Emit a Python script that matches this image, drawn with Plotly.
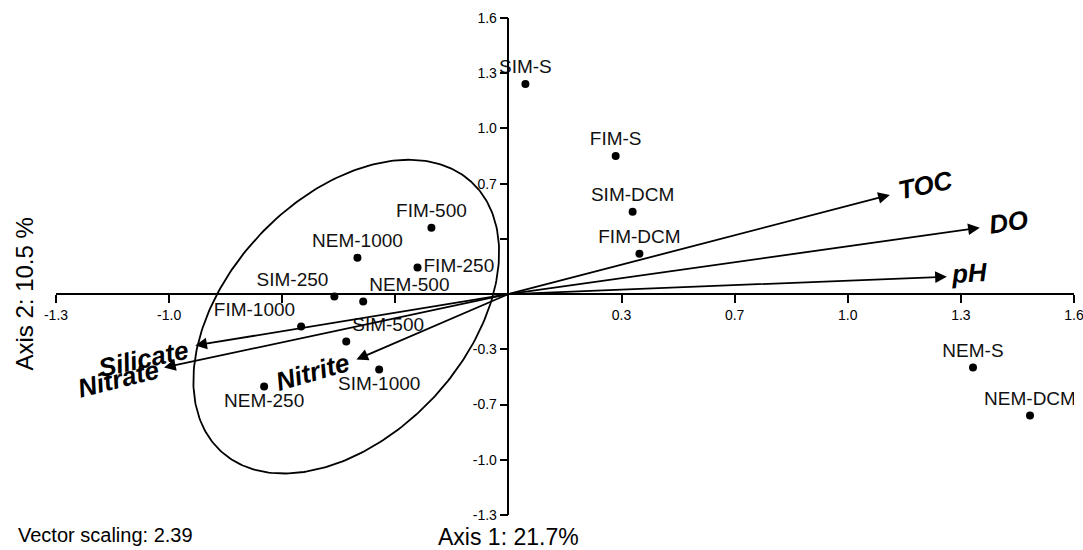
import plotly.graph_objects as go
import numpy as np

# ---- data ----
sample_names = ["SIM-S", "FIM-S", "SIM-DCM", "FIM-DCM", "FIM-500", "NEM-1000", "FIM-250",
                "SIM-250", "NEM-500", "FIM-1000", "SIM-500", "NEM-250", "SIM-1000",
                "NEM-S", "NEM-DCM"]
axis1_scores = [0.050, 0.316, 0.366, 0.386, -0.227, -0.445, -0.268,
                -0.513, -0.428, -0.611, -0.478, -0.720, -0.381,
                1.369, 1.537]
axis2_scores = [1.268, 0.834, 0.497, 0.244, 0.401, 0.220, 0.160,
                -0.015, -0.045, -0.196, -0.286, -0.557, -0.455,
                -0.443, -0.732]

vector_names = ["TOC", "DO", "pH", "Silicate", "Nitrate", "Nitrite"]
vector_axis1 = [1.124, 1.389, 1.292, -0.923, -1.015, -0.448]
vector_axis2 = [0.599, 0.401, 0.105, -0.310, -0.443, -0.395]

# ellipse: centre and two conjugate semi-diameters (axis units)
ellipse_center = [-0.478, -0.136]
ellipse_u = [0.370, 0.811]
ellipse_v = [-0.257, 0.489]

tick_vals = [-4/3, -1, -2/3, -1/3, 1/3, 2/3, 1, 4/3, 5/3]
x_tick_text = ["-1.3", "-1.0", "", "", "0.3", "0.7", "1.0", "1.3", "1.6"]
y_tick_text = ["-1.3", "-1.0", "-0.7", "-0.3", "", "0.7", "1.0", "1.3", "1.6"]

# ---- styling ----
label_pos = ["top center", "top center", "top center", "top center", "top center",
             "top center", "middle right", "top left", "top right", "top left",
             "top right", "bottom center", "bottom center", "top center", "top center"]
vec_label_style = {
    "TOC": (36, 10, -12), "DO": (29, 6, -8), "pH": (23, 4, -3),
    "Silicate": (-52, -14, -12), "Nitrate": (-46, -11, -14), "Nitrite": (-44, -12, -16),
}
FONT = "Liberation Sans, Arial, sans-serif"

fig = go.Figure()

t = np.linspace(0, 2 * np.pi, 300)
ex = ellipse_center[0] + ellipse_u[0] * np.cos(t) + ellipse_v[0] * np.sin(t)
ey = ellipse_center[1] + ellipse_u[1] * np.cos(t) + ellipse_v[1] * np.sin(t)
fig.add_trace(go.Scatter(x=ex, y=ey, mode="lines", line=dict(color="black", width=1.8),
                         hoverinfo="skip", showlegend=False))

fig.add_trace(go.Scatter(
    x=axis1_scores, y=axis2_scores, mode="markers+text", text=sample_names,
    textposition=label_pos, textfont=dict(family=FONT, size=19, color="#111"),
    marker=dict(color="black", size=8), showlegend=False))

annotations = []
for name, vx, vy in zip(vector_names, vector_axis1, vector_axis2):
    annotations.append(dict(x=vx, y=vy, ax=0, ay=0, xref="x", yref="y", axref="x", ayref="y",
                            showarrow=True, arrowhead=2, arrowsize=1.3, arrowwidth=1.8,
                            arrowcolor="black", text=""))
    dx, dy, ang = vec_label_style[name]
    annotations.append(dict(x=vx, y=vy, xref="x", yref="y", showarrow=False,
                            text=f"<b><i>{name}</i></b>", textangle=ang,
                            xshift=dx, yshift=dy, xanchor="center", yanchor="middle",
                            font=dict(family=FONT, size=26, color="black")))

annotations += [
    dict(x=4/9, y=0, xref="paper", yref="paper", yshift=-22, showarrow=False,
         text="Axis 1: 21.7%", xanchor="center", yanchor="middle",
         font=dict(family=FONT, size=23, color="black")),
    dict(x=-0.031, y=4/9, xref="paper", yref="paper", showarrow=False, textangle=-90,
         text="Axis 2: 10.5 %", xanchor="center", yanchor="middle",
         font=dict(family=FONT, size=24, color="black")),
    dict(x=-0.0395, y=0, xref="paper", yref="paper", yshift=-20, showarrow=False,
         text="Vector scaling: 2.39", xanchor="left", yanchor="middle",
         font=dict(family=FONT, size=20, color="black")),
]

axis_common = dict(showgrid=False, zeroline=False, showline=True, linecolor="black",
                   linewidth=1.5, ticks="outside", ticklen=8, tickwidth=1.5,
                   tickcolor="black", tickvals=tick_vals, anchor="free", position=4/9,
                   automargin=False, ticklabeloverflow="allow",
                   tickfont=dict(family=FONT, size=14, color="black"))

fig.update_layout(
    width=1083, height=550, plot_bgcolor="white", paper_bgcolor="white",
    margin=dict(l=56, r=9, t=18, b=35, autoexpand=False),
    xaxis=dict(range=[-4/3, 5/3], ticktext=x_tick_text, **axis_common),
    yaxis=dict(range=[-4/3, 5/3], ticktext=y_tick_text, **axis_common),
    annotations=annotations, showlegend=False,
)

fig.write_html("out.html", config={"displayModeBar": False},
               post_script="document.body.style.margin='0';document.body.style.overflow='hidden';")
